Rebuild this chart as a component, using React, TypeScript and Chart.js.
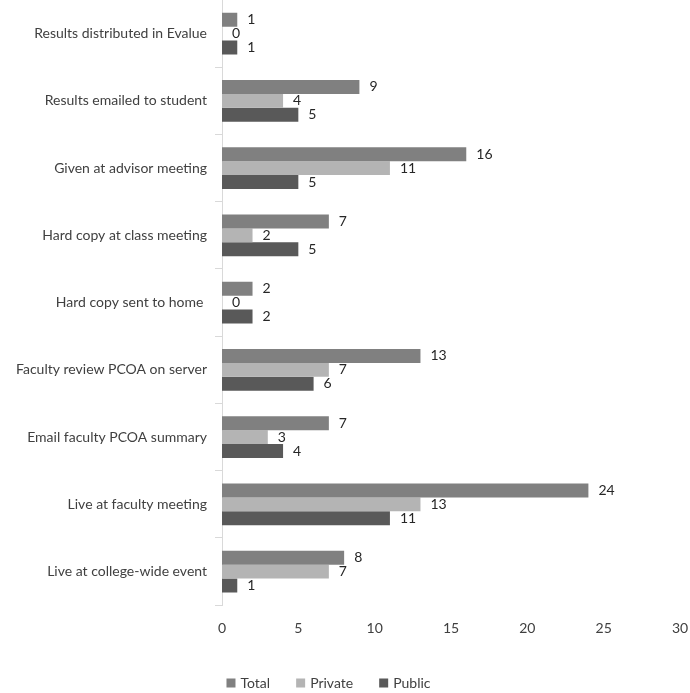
import React, { useEffect, useRef } from "react";
import { Chart, registerables } from "chart.js";

Chart.register(...registerables);

const categories = [
  "Results distributed in Evalue",
  "Results emailed to student",
  "Given at advisor meeting",
  "Hard copy at class meeting",
  "Hard copy sent to home ",
  "Faculty review PCOA on server",
  "Email faculty PCOA summary",
  "Live at faculty meeting",
  "Live at college-wide event",
];
const totalValues = [1, 9, 16, 7, 2, 13, 7, 24, 8];
const privateValues = [0, 4, 11, 2, 0, 7, 3, 13, 7];
const publicValues = [1, 5, 5, 5, 2, 6, 4, 11, 1];
const xTicks = [0, 5, 10, 15, 20, 25, 30];

const FONT = "Lato, 'Open Sans', sans-serif";
const TEXT = "#404040";
const FS = 14;

const valueLabels = {
  id: "valueLabels",
  afterDatasetsDraw(chart: any) {
    const ctx = chart.ctx;
    ctx.save();
    ctx.font = `${FS}px ${FONT}`;
    ctx.fillStyle = "#262626";
    ctx.textAlign = "left";
    ctx.textBaseline = "middle";
    chart.data.datasets.forEach((ds: any, di: number) => {
      const meta = chart.getDatasetMeta(di);
      meta.data.forEach((bar: any, i: number) => {
        ctx.fillText(String(ds.data[i]), bar.x + 10, bar.y);
      });
    });
    ctx.restore();
  },
};

const bottomLegend = {
  id: "bottomLegend",
  afterDraw(chart: any) {
    const ctx = chart.ctx;
    ctx.save();
    ctx.font = `${FS}px ${FONT}`;
    ctx.textBaseline = "middle";
    ctx.textAlign = "left";
    const box = 9, gapText = 5, gapItem = 26;
    const items = chart.data.datasets.map((ds: any) => ({
      label: ds.label,
      color: ds.backgroundColor,
      w: ctx.measureText(ds.label).width,
    }));
    const total = items.reduce((a: number, it: any) => a + box + gapText + it.w, 0) + gapItem * (items.length - 1);
    let x = 328.5 - total / 2;
    const y = chart.height - 10;
    items.forEach((it: any) => {
      ctx.fillStyle = it.color;
      ctx.fillRect(x, y - box / 2, box, box);
      ctx.fillStyle = TEXT;
      ctx.fillText(it.label, x + box + gapText, y);
      x += box + gapText + it.w + gapItem;
    });
    ctx.restore();
  },
};

export default function App() {
  const ref = useRef<HTMLCanvasElement>(null);
  useEffect(() => {
    document.body.style.margin = "0";
    const chart = new Chart(ref.current!, {
      type: "bar",
      data: {
        labels: categories,
        datasets: [
          { label: "Total", data: totalValues, backgroundColor: "#808080" },
          { label: "Private", data: privateValues, backgroundColor: "#b4b4b4" },
          { label: "Public", data: publicValues, backgroundColor: "#595959" },
        ],
      },
      options: {
        indexAxis: "y",
        animation: false,
        responsive: false,
        maintainAspectRatio: false,
        datasets: { bar: { barPercentage: 1, categoryPercentage: 0.62 } },
        layout: { padding: { top: 0, right: 10, bottom: 41, left: 0 } },
        scales: {
          x: {
            min: 0,
            max: 30,
            afterBuildTicks: (s: any) => {
              s.ticks = xTicks.map((v) => ({ value: v }));
            },
            afterFit: (s: any) => {
              s.paddingLeft = 0;
              s.paddingRight = 0;
            },
            grid: { display: false, drawTicks: false },
            border: { display: false },
            ticks: { padding: 15, color: TEXT, font: { family: FONT, size: FS } },
          },
          y: {
            afterFit: (s: any) => {
              s.width = 222;
              s.paddingTop = 0;
              s.paddingBottom = 0;
            },
            grid: {
              display: true,
              drawOnChartArea: false,
              drawTicks: true,
              tickLength: 7,
              color: "#d9d9d9",
              offset: true,
            },
            border: { display: true, color: "#d9d9d9" },
            ticks: { padding: 8, color: TEXT, font: { family: FONT, size: FS } },
          },
        },
        plugins: {
          legend: { display: false },
          tooltip: { enabled: false },
        },
      },
      plugins: [valueLabels, bottomLegend],
    });
    return () => chart.destroy();
  }, []);
  return (
    <div style={{ width: 690, height: 693 }}>
      <canvas ref={ref} width={690} height={693} style={{ display: "block" }} />
    </div>
  );
}
